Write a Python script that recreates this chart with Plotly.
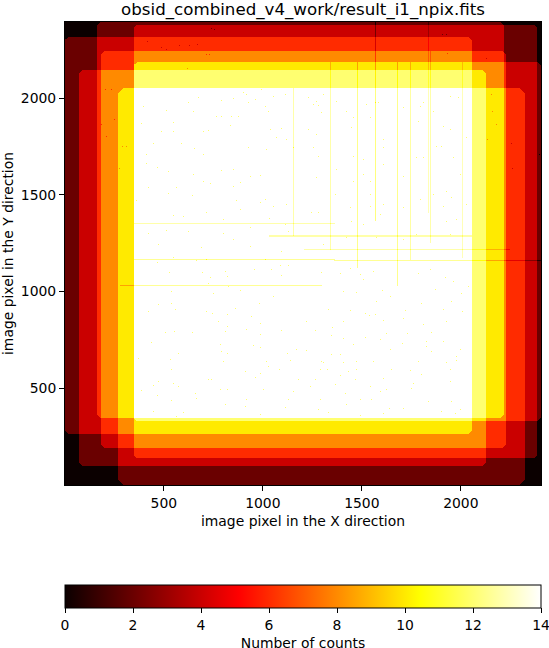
import numpy as np
import plotly.graph_objects as go

# Exposure footprints (image pixels); each contributes 2 counts
rect_left = [165, 347, 1, 185, 347, 74, 271]
rect_right = [2216, 2387, 2054, 2226, 2403, 2125, 2322]
rect_bottom = [345, 137, 262, 189, 329, 96, -2]
rect_top = [2395, 2380, 2318, 2245, 2188, 2147, 2054]
rect_counts = [2, 2, 2, 2, 2, 2, 2]
corner_cut = [14, 14, 16, 18, 18, 14, 26]

# Streaks of missing counts
vstreak_x = [1157, 1343, 1480, 1569, 1680, 1748, 1835, 1849, 2010]
vstreak_y0 = [1287, 1215, 1121, 1366, 1028, 1163, 1406, 1251, 1173]
vstreak_y1 = [2054, 2188, 2188, 2395, 2188, 2188, 2395, 2245, 2188]
vstreak_depth = [1.2, 1.2, 1.6, 1.8, 1.6, 1.3, 1, 1.2, 1]
hstreak_y = [1353, 1289, 1216, 1166, 1161, 1032]
hstreak_x0 = [347, 1030, 1210, 347, 1362, 277]
hstreak_x1 = [1367, 2054, 2246, 1367, 2403, 1301]
hstreak_depth = [1.2, 1.2, 1.2, 1.5, 1.5, 1.5]
hstreak_rows = [1, 2, 1, 1, 1, 1]

# Isolated low pixels, as offsets inside four image blocks + two edge blocks
speck_a = [(180,72),(25,108),(30,55),(100,68),(165,45),(195,30),(265,38),(300,32),(345,45),(365,35),(395,55),(420,25),(455,20),(340,20),(385,5),(330,15),(265,85),(295,85),(315,85),(250,85),(225,128),(210,130),(120,103),(85,132),(60,167),(145,168),(182,182),(210,200),(40,200),(38,228),(72,240),(105,250),(180,260),(265,248),(300,245),(350,265),(380,262),(430,150),(410,125),(445,122),(480,180),(400,185),(345,180),(460,155),(290,112),(405,70),(120,130),(45,298),(130,300),(105,318),(230,288),(210,282),(320,285),(300,295),(178,322),(10,338),(395,335),(380,345),(420,355),(460,350),(310,338),(320,365),(120,382),(150,385),(220,373),(270,395),(408,392),(455,410),(350,420),(165,432),(45,438),(100,428),(270,438),(300,455),(465,430),(75,470),(205,480),(350,475),(445,490)]
speck_b = [(38,140),(345,102),(15,30),(40,40),(30,50),(45,52),(55,75),(60,20),(100,40),(150,90),(145,120),(15,125),(130,70),(200,90),(215,45),(190,50),(225,45),(300,60),(360,45),(350,55),(390,70),(440,25),(465,30),(420,115),(440,125),(490,150),(400,175),(415,175),(360,210),(240,155),(240,180),(180,215),(150,205),(45,205),(30,180),(180,260),(40,270),(100,245),(240,230),(200,280),(150,280),(300,265),(390,320),(430,310),(445,330),(470,260),(340,210),(450,210),(200,320),(240,350),(200,355),(140,360),(25,375),(45,375),(300,360),(350,335),(420,355),(490,350),(460,395),(430,400),(230,380),(145,400),(180,410),(95,320),(60,470),(130,450),(220,450),(300,455),(440,440),(340,440)]
speck_c = [(120,12),(188,22),(218,18),(72,28),(108,58),(208,58),(230,72),(283,70),(275,55),(362,50),(415,48),(440,38),(465,38),(445,68),(395,20),(285,100),(225,90),(240,122),(115,115),(320,112),(420,130),(378,150),(115,152),(75,155),(127,168),(45,175),(220,175),(238,182),(283,185),(355,190),(305,165),(255,205),(283,220),(380,210),(340,228),(445,232),(95,238),(122,235),(178,238),(275,235),(380,245),(55,268),(260,275),(360,278),(380,282),(265,295),(283,300),(463,300),(490,290),(135,300),(15,315),(110,320),(270,325),(400,325),(405,340),(470,322),(115,348),(437,348),(335,355),(380,360),(365,372),(225,378),(235,380),(495,378),(75,385),(120,390),(60,398),(135,400),(390,408),(260,408),(282,408),(185,420),(25,412),(480,415),(72,428),(188,435),(115,442),(465,438),(340,438),(275,455),(337,460),(455,462),(60,475),(150,478),(130,490),(380,485)]
speck_d = [(478,175),(428,205),(140,45),(110,60),(55,58),(170,65),(210,55),(180,80),(345,60),(380,50),(425,72),(450,85),(495,100),(120,115),(160,118),(238,112),(395,108),(475,122),(260,130),(220,145),(355,150),(445,145),(185,180),(215,183),(198,188),(75,170),(140,172),(305,172),(420,168),(120,205),(8,205),(88,222),(240,202),(300,195),(360,215),(35,232),(85,248),(120,255),(185,252),(248,240),(312,240),(385,238),(230,258),(298,270),(150,275),(368,265),(420,265),(370,280),(385,295),(260,288),(8,292),(85,305),(110,305),(470,290),(460,310),(60,328),(55,325),(120,328),(158,325),(210,325),(345,325),(430,328),(460,322),(50,350),(72,348),(135,355),(160,350),(265,350),(320,352),(240,375),(355,365),(440,350),(110,368),(155,378),(35,380),(95,395),(200,400),(330,392),(440,385),(20,400),(125,420),(230,415),(250,408),(325,405),(170,438),(205,438),(50,440),(445,445),(375,445),(128,455),(258,465),(300,465),(470,468),(45,470),(75,478),(240,482),(170,488),(415,475),(455,482)]
speck_e = [(470,40),(480,45),(375,92),(405,92),(320,98),(335,103),(280,80),(455,120),(465,120),(400,160),(430,90),(140,328),(155,365),(180,315),(170,225),(152,225),(205,395),(215,395),(195,460)]
speck_f = [(280,290),(265,375),(340,460),(335,385),(275,240),(290,330),(260,130),(145,115),(420,420),(140,60),(130,60)]
block_origin_x = [347, 1206, 347, 1206, -52, 1690]
block_origin_y = [2054, 2054, 1199, 1199, 2432, 2432]
block_unit_x = 1.684
block_unit_y = 1.726

cbar_ticks = [0, 2, 4, 6, 8, 10, 12, 14]
axis_ticks = [500, 1000, 1500, 2000]
hot_scale = [[0, "rgb(11,0,0)"], [0.365079, "rgb(255,0,0)"], [0.746032, "rgb(255,255,0)"], [1, "rgb(255,255,255)"]]

W, H = 549, 648
left, right, top, bottom = 65, 541, 22, 485
plot_w, plot_h = right - left, bottom - top
x_range = [1, 2405]
y_range = [-2, 2395]

cell_x = (x_range[1] - x_range[0]) / plot_w
cell_y = (y_range[1] - y_range[0]) / plot_h
x = x_range[0] + (np.arange(plot_w) + 0.5) * cell_x
y = y_range[0] + (np.arange(plot_h) + 0.5) * cell_y
X, Y = np.meshgrid(x, y)
z = np.zeros(X.shape)
for L, R, B, T, c, k in zip(rect_left, rect_right, rect_bottom, rect_top, rect_counts, corner_cut):
    mask = (X >= L) & (X < R) & (Y >= B) & (Y < T)
    mask &= ((X - L) + (T - Y) >= k) & ((R - X) + (T - Y) >= k)
    mask &= ((X - L) + (Y - B) >= k) & ((R - X) + (Y - B) >= k)
    z[mask] += c

for xs, y0, y1, d in zip(vstreak_x, vstreak_y0, vstreak_y1, vstreak_depth):
    col = int((xs - x_range[0]) // cell_x)
    r = (y >= y0) & (y <= y1)
    z[r, col] -= d
for ys, x0, x1, d, n in zip(hstreak_y, hstreak_x0, hstreak_x1, hstreak_depth, hstreak_rows):
    row = int((ys - y_range[0]) // cell_y)
    c = (x >= x0) & (x <= x1)
    for i in range(n):
        z[row - i, c] -= d

for pts, ox, oy in zip([speck_a, speck_b, speck_c, speck_d, speck_e, speck_f], block_origin_x, block_origin_y):
    for cx, cy in pts:
        col = int((ox + cx * block_unit_x - x_range[0]) // cell_x)
        row = int((oy - cy * block_unit_y - y_range[0]) // cell_y)
        if 0 <= row < z.shape[0] and 0 <= col < z.shape[1]:
            z[row, col] -= 2
z = np.clip(z, 0, 14)

fig = go.Figure(go.Heatmap(
    z=z, x0=x[0], dx=cell_x, y0=y[0], dy=cell_y, zmin=0, zmax=14, zsmooth=False,
    colorscale=hot_scale, hoverinfo="skip",
    colorbar=dict(
        orientation="h", x=0.5, xanchor="center", xref="paper",
        y=(bottom - 585) / plot_h, yanchor="top", yref="paper",
        len=1, lenmode="fraction", thickness=23, thicknessmode="pixels",
        xpad=0, ypad=0, outlinewidth=1, outlinecolor="black", borderwidth=0,
        ticks="outside", ticklen=5, tickwidth=1.1, tickcolor="black",
        tickvals=cbar_ticks, ticklabeloverflow="allow",
        tickfont=dict(family="DejaVu Sans", size=13.9, color="black"),
        title=dict(text="Number of counts", side="bottom",
                   font=dict(family="DejaVu Sans", size=13.9, color="black")),
    ),
))
axis_font = dict(family="DejaVu Sans", size=13.9, color="black")
fig.update_layout(
    width=W, height=H, autosize=False,
    margin=dict(l=left, r=W - right, t=top, b=H - bottom, pad=0, autoexpand=False),
    paper_bgcolor="white", plot_bgcolor="white",
    font=dict(family="DejaVu Sans", color="black"),
    title=dict(text="obsid_combined_v4_work/result_i1_npix.fits",
               font=dict(family="DejaVu Sans", size=16.67, color="black"),
               x=(left + right) / 2 / W, xanchor="center", xref="container",
               y=1 - 9 / H, yanchor="middle", yref="container"),
    xaxis=dict(range=x_range, tickvals=axis_ticks, ticks="outside", ticklen=5, tickwidth=1.1,
               tickcolor="black", tickfont=axis_font, showgrid=False, zeroline=False,
               showline=True, linecolor="black", linewidth=1, mirror=True,
               title=dict(text="image pixel in the X direction", font=axis_font, standoff=6),
               automargin=False),
    yaxis=dict(range=y_range, tickvals=axis_ticks, ticks="outside", ticklen=5, tickwidth=1.1,
               tickcolor="black", tickfont=axis_font, showgrid=False, zeroline=False,
               showline=True, linecolor="black", linewidth=1, mirror=True,
               title=dict(text="image pixel in the Y direction", font=axis_font, standoff=7),
               automargin=False),
)
fig.write_html("out.html", config={"displayModeBar": False},
               post_script="document.body.style.margin='0';document.body.style.overflow='hidden';")
